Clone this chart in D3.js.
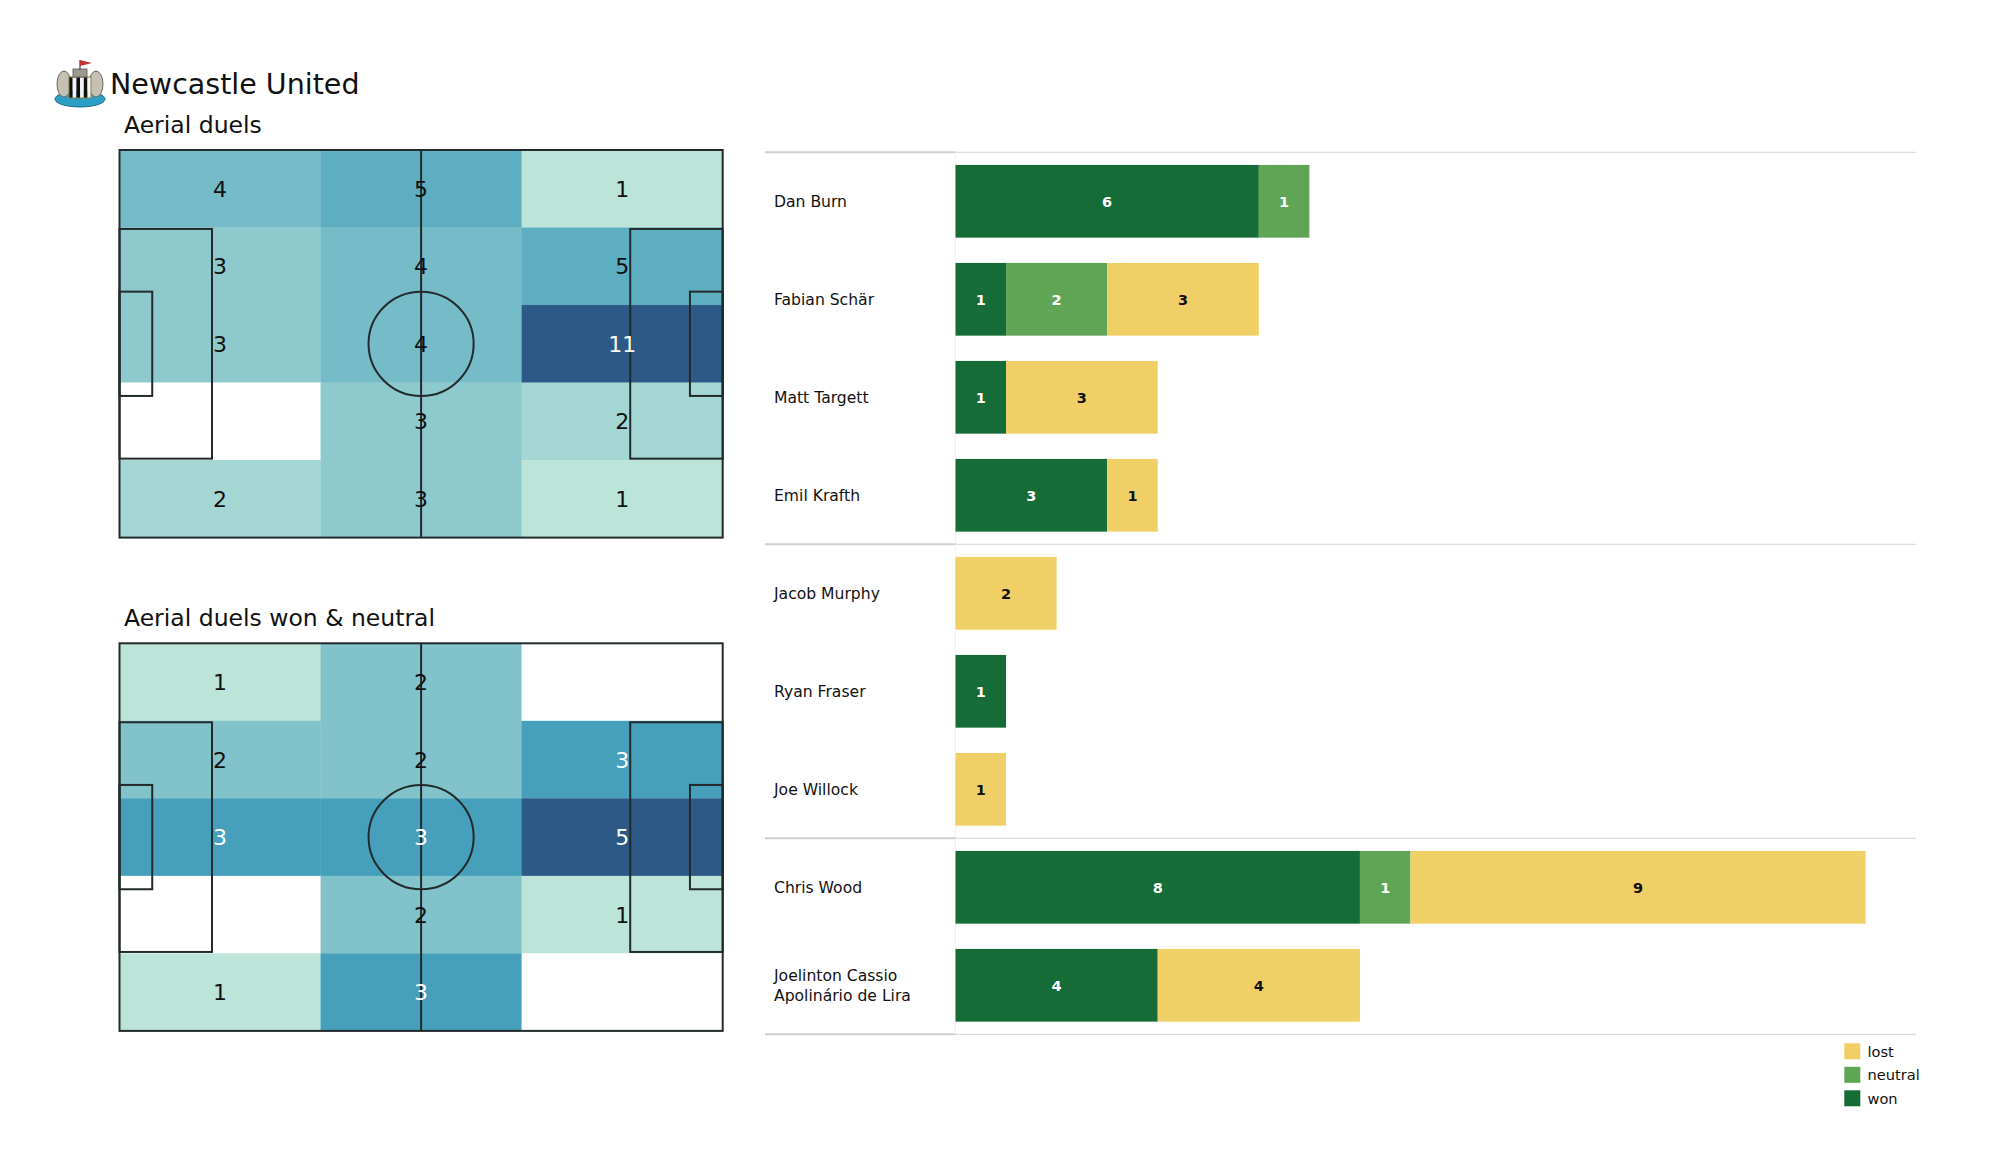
<!DOCTYPE html>
<html>
<head>
<meta charset="utf-8">
<script src="https://cdn.jsdelivr.net/npm/d3@7"></script>
<style>
  html, body { margin: 0; padding: 0; background: #ffffff; }
  svg { display: block; font-family: "DejaVu Sans", sans-serif; }
</style>
</head>
<body>
<svg id="chart" width="2000" height="1175"></svg>
<script>
// ---------------- DATA ----------------
const teamName = "Newcastle United";
const heatTitles = ["Aerial duels", "Aerial duels won & neutral"];
// 5 rows (top -> bottom) x 3 columns (left -> right)
const aerialDuels = [
  [4, 5, 1],
  [3, 4, 5],
  [3, 4, 11],
  [0, 3, 2],
  [2, 3, 1]
];
const aerialWonNeutral = [
  [1, 2, 0],
  [2, 2, 3],
  [3, 3, 5],
  [0, 2, 1],
  [1, 3, 0]
];
const players = ["Dan Burn", "Fabian Schär", "Matt Targett", "Emil Krafth",
  "Jacob Murphy", "Ryan Fraser", "Joe Willock", "Chris Wood",
  "Joelinton Cassio Apolinário de Lira"];
const playerLabelLines = [["Dan Burn"], ["Fabian Schär"], ["Matt Targett"], ["Emil Krafth"],
  ["Jacob Murphy"], ["Ryan Fraser"], ["Joe Willock"], ["Chris Wood"],
  ["Joelinton Cassio", "Apolinário de Lira"]];
const wonValues     = [6, 1, 1, 3, 0, 1, 0, 8, 4];
const neutralValues = [1, 2, 0, 0, 0, 0, 0, 1, 0];
const lostValues    = [0, 3, 3, 1, 2, 0, 1, 9, 4];
const groupSizes = [4, 3, 2];
const seriesKeys = ["won", "neutral", "lost"];
const legendOrder = ["lost", "neutral", "won"];

// ---------------- SETUP ----------------
const svg = d3.select("#chart");
svg.append("rect").attr("width", 2000).attr("height", 1175).attr("fill", "#ffffff");

const FONT = "DejaVu Sans, sans-serif";
const lineCol = "#222a2b";

// ---------------- LOGO (simple crest) ----------------
const logo = svg.append("g");
logo.append("ellipse").attr("cx", 80).attr("cy", 99).attr("rx", 25).attr("ry", 8)
  .attr("fill", "#2b9fc6").attr("stroke", "#1c6f8c").attr("stroke-width", 1);
logo.append("ellipse").attr("cx", 64).attr("cy", 84).attr("rx", 7).attr("ry", 13)
  .attr("fill", "#c4c1b4").attr("stroke", "#6f6d64").attr("stroke-width", 1);
logo.append("ellipse").attr("cx", 96).attr("cy", 84).attr("rx", 7).attr("ry", 13)
  .attr("fill", "#c4c1b4").attr("stroke", "#6f6d64").attr("stroke-width", 1);
const stripes = d3.range(6);
logo.selectAll("rect.stripe").data(stripes).join("rect")
  .attr("class", "stripe")
  .attr("x", d => 69 + d * 3.7).attr("y", 77).attr("width", 3.7).attr("height", 21)
  .attr("fill", d => d % 2 === 0 ? "#111" : "#f4f4f4");
logo.append("rect").attr("x", 69).attr("y", 77).attr("width", 22).attr("height", 21)
  .attr("fill", "none").attr("stroke", "#8a7a3a").attr("stroke-width", 1);
logo.append("rect").attr("x", 73).attr("y", 69).attr("width", 14).attr("height", 8)
  .attr("fill", "#9d9a90").attr("stroke", "#555").attr("stroke-width", 0.8);
logo.append("line").attr("x1", 80).attr("y1", 60).attr("x2", 80).attr("y2", 70)
  .attr("stroke", "#444").attr("stroke-width", 1.2);
logo.append("path").attr("d", "M80,60 L92,63 L80,66 Z").attr("fill", "#c2303a");

svg.append("text").attr("x", 110).attr("y", 94).attr("font-size", 28.5)
  .attr("font-family", FONT).attr("fill", "#111").text(teamName);

// ---------------- PITCH HEATMAPS ----------------
const PITCH_L = 105, PITCH_W = 68;
function drawPitch(top, grid, title) {
  const g = svg.append("g");
  const x = d3.scaleLinear().domain([0, PITCH_L]).range([119.5, 722.7]);
  const y = d3.scaleLinear().domain([0, PITCH_W]).range([top, top + 387.6]);
  g.append("text").attr("x", 124).attr("y", top - 17).attr("font-size", 23.5)
    .attr("font-family", FONT).attr("fill", "#111").text(title);

  const nRows = grid.length, nCols = grid[0].length;
  const cellW = PITCH_L / nCols, cellH = PITCH_W / nRows;
  const cells = [];
  grid.forEach((row, r) => row.forEach((v, c) => cells.push({r, c, v})));
  const nz = cells.filter(d => d.v > 0).map(d => d.v);
  const vmin = d3.min(nz), vmax = d3.max(nz);
  const color = d3.scaleLinear()
    .domain([vmin, (vmin + vmax) / 2, vmax])
    .range(["#bce4d9", "#46a0bc", "#2c5986"])
    .interpolate(d3.interpolateRgb);

  g.selectAll("rect.cell").data(cells).join("rect")
    .attr("class", "cell")
    .attr("x", d => x(d.c * cellW)).attr("y", d => y(d.r * cellH))
    .attr("width", x(cellW) - x(0) + 0.3).attr("height", y(cellH) - y(0) + 0.3)
    .attr("fill", d => d.v > 0 ? color(d.v) : "#ffffff");

  // pitch markings
  const mk = g.append("g").attr("fill", "none").attr("stroke", lineCol).attr("stroke-width", 2);
  mk.append("rect").attr("x", x(0)).attr("y", y(0))
    .attr("width", x(PITCH_L) - x(0)).attr("height", y(PITCH_W) - y(0));
  mk.append("line").attr("x1", x(PITCH_L / 2)).attr("x2", x(PITCH_L / 2))
    .attr("y1", y(0)).attr("y2", y(PITCH_W));
  mk.append("ellipse").attr("cx", x(PITCH_L / 2)).attr("cy", y(PITCH_W / 2))
    .attr("rx", x(9.15) - x(0)).attr("ry", y(9.15) - y(0));
  const penD = 16.1, penW = 40.3, sixD = 5.7, sixW = 18.3;
  [[0, 1], [PITCH_L, -1]].forEach(([gx, dir]) => {
    mk.append("rect")
      .attr("x", dir > 0 ? x(gx) : x(gx - penD)).attr("y", y((PITCH_W - penW) / 2))
      .attr("width", x(penD) - x(0)).attr("height", y(penW) - y(0));
    mk.append("rect")
      .attr("x", dir > 0 ? x(gx) : x(gx - sixD)).attr("y", y((PITCH_W - sixW) / 2))
      .attr("width", x(sixD) - x(0)).attr("height", y(sixW) - y(0));
  });

  g.selectAll("text.val").data(cells.filter(d => d.v > 0)).join("text")
    .attr("class", "val")
    .attr("x", d => x((d.c + 0.5) * cellW))
    .attr("y", d => y((d.r + 0.5) * cellH))
    .attr("dy", "0.36em")
    .attr("text-anchor", "middle")
    .attr("font-size", 22).attr("font-family", FONT)
    .attr("fill", d => (d.v - vmin) / (vmax - vmin) >= 0.45 ? "#ffffff" : "#111111")
    .text(d => d.v);
}
drawPitch(150, aerialDuels, heatTitles[0]);
drawPitch(643.3, aerialWonNeutral, heatTitles[1]);

// ---------------- STACKED BARS ----------------
const barColors = {won: "#166c37", neutral: "#5fa555", lost: "#f0cf66"};
const barText = {won: "#ffffff", neutral: "#ffffff", lost: "#111111"};
const rows = players.map((p, i) => ({
  player: p, won: wonValues[i], neutral: neutralValues[i], lost: lostValues[i]
}));
const yb = d3.scaleBand().domain(players).range([152.3, 1034.3])
  .paddingInner(0.258).paddingOuter(0.129);
const xb = d3.scaleLinear().domain([0, 18]).range([955.5, 1865.5]);

// faint vertical separator
svg.append("line").attr("x1", 955.5).attr("x2", 955.5).attr("y1", 152.3).attr("y2", 1034.3)
  .attr("stroke", "#f0f0f0").attr("stroke-width", 1);

// group separator lines
const sepIdx = [0];
groupSizes.reduce((acc, s) => { sepIdx.push(acc + s); return acc + s; }, 0);
const step = yb.step();
sepIdx.forEach(i => {
  const yy = 152.3 + i * step;
  svg.append("line").attr("x1", 765).attr("x2", 955.5).attr("y1", yy).attr("y2", yy)
    .attr("stroke", "#cfcfcf").attr("stroke-width", 2);
  svg.append("line").attr("x1", 955.5).attr("x2", 1916).attr("y1", yy).attr("y2", yy)
    .attr("stroke", "#dcdcdc").attr("stroke-width", 1.3);
});

const stack = d3.stack().keys(seriesKeys)(rows);
const barG = svg.append("g");
stack.forEach(layer => {
  const key = layer.key;
  const segs = layer.map((d, i) => ({key, y0: d[0], y1: d[1], player: players[i]}))
    .filter(d => d.y1 - d.y0 > 0);
  barG.selectAll("rect." + key).data(segs).join("rect")
    .attr("class", key)
    .attr("x", d => xb(d.y0)).attr("width", d => xb(d.y1) - xb(d.y0))
    .attr("y", d => yb(d.player)).attr("height", yb.bandwidth())
    .attr("fill", barColors[key]);
  barG.selectAll("text." + key).data(segs).join("text")
    .attr("class", key)
    .attr("x", d => (xb(d.y0) + xb(d.y1)) / 2)
    .attr("y", d => yb(d.player) + yb.bandwidth() / 2)
    .attr("dy", "0.36em").attr("text-anchor", "middle")
    .attr("font-size", 14.5).attr("font-weight", "bold").attr("font-family", FONT)
    .attr("fill", barText[key])
    .text(d => d.y1 - d.y0);
});

// player labels
const lab = svg.append("g");
players.forEach((p, i) => {
  const lines = playerLabelLines[i];
  const cy = yb(p) + yb.bandwidth() / 2;
  lines.forEach((ln, j) => {
    lab.append("text").attr("x", 774)
      .attr("y", cy + (j - (lines.length - 1) / 2) * 19.5)
      .attr("dy", "0.36em").attr("font-size", 15.6).attr("font-family", FONT)
      .attr("fill", "#111").text(ln);
  });
});

// legend
const leg = svg.append("g");
legendOrder.forEach((k, i) => {
  const yy = 1043.3 + i * 23.5;
  leg.append("rect").attr("x", 1844.3).attr("y", yy).attr("width", 16).attr("height", 16)
    .attr("fill", barColors[k]);
  leg.append("text").attr("x", 1867.5).attr("y", yy + 8).attr("dy", "0.36em")
    .attr("font-size", 14.6).attr("font-family", FONT).attr("fill", "#111").text(k);
});
</script>
</body>
</html>
